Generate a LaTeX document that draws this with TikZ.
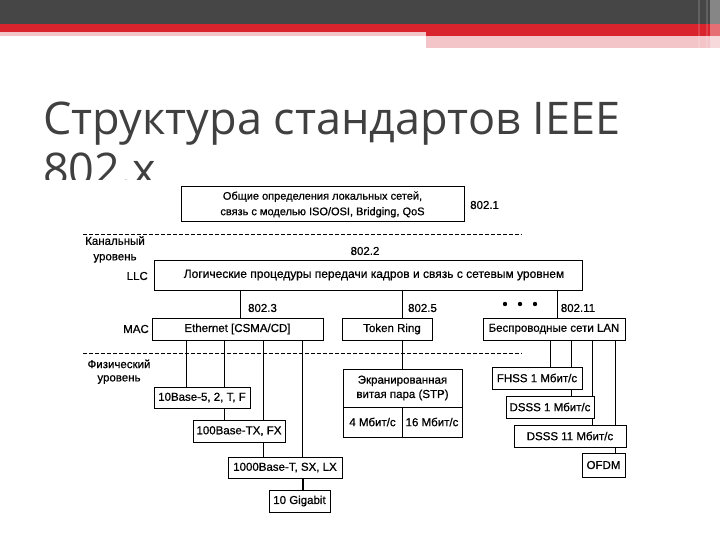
\documentclass[tikz,border=0pt]{standalone}
\usepackage{fontspec}
\setmainfont{Liberation Sans}[FakeBold=0.7]
\newfontfamily\titlefont{Open Sans}
\definecolor{barDark}{HTML}{464646}
\definecolor{barRed}{HTML}{D9232D}
\definecolor{barPink}{HTML}{F4C5C8}
\definecolor{titleGray}{HTML}{404040}
\pgfdeclarelayer{bg}
\pgfsetlayers{bg,main}
\begin{document}
\begin{tikzpicture}[x=1pt,y=-1pt,
  bx/.style={draw, fill=white, line width=1pt, inner sep=0pt, align=center,
    font=\fontsize{11.5}{15.5}\selectfont},
  lbl/.style={inner sep=0pt, align=center, font=\fontsize{11.5}{15.5}\selectfont},
  ln/.style={line width=1pt},
  sepline/.style={line width=0.8pt, dash pattern=on 3.5pt off 2.5pt}]
\useasboundingbox (0,0) rectangle (720,540);
% top bar
\fill[barDark] (0,0) rectangle (720,24);
\fill[barRed] (0,24) rectangle (426,32);
\fill[barPink] (0,32) rectangle (426,35.7);
\fill[barRed] (426,24) rectangle (720,35.7);
\fill[barPink] (426,35.7) rectangle (720,48.5);
\fill[white, opacity=0.35] (710,0) rectangle (720,48.5);
\fill[white, opacity=0.15] (698,0) rectangle (700,48.5);
\fill[white, opacity=0.15] (706,0) rectangle (707.5,48.5);
% title
\node[anchor=base west, inner sep=0pt, text=titleGray,
  font=\titlefont\fontsize{45}{45}\selectfont] (t1) at (43,135) {Структура стандартов IEEE};
\begin{scope}
  \clip (0,140) rectangle (720,180);
  \node[anchor=base west, inner sep=0pt, text=titleGray,
    font=\titlefont\fontsize{45}{45}\selectfont] (t2) at (43,186) {802.x};
\end{scope}
% general box
\node[bx, minimum width=283pt, minimum height=35pt, font=\fontsize{11}{15.5}\selectfont] (gen) at (322.5,204.5)
  {Общие определения локальных сетей,\\связь с моделью ISO/OSI, Bridging, QoS};
\node[lbl, anchor=west] (l8021) at (470,205) {802.1};
% separators
\coordinate (d1a) at (83,234); \coordinate (d1b) at (522,234);
\coordinate (d2a) at (83,353); \coordinate (d2b) at (522,353);
\draw[sepline] (d1a) -- (d1b);
\draw[sepline] (d2a) -- (d2b);
\node[lbl] (kan) at (115,249.5) {Канальный\\уровень};
\node[lbl] (l8022) at (365,251) {802.2};
\node[lbl, anchor=east] (llcl) at (148,276) {LLC};
\node[bx, minimum width=428pt, minimum height=30pt, font=\fontsize{12}{14}\selectfont] (llc) at (368,275)
  {\hspace*{12pt}Логические процедуры передачи кадров и связь с сетевым уровнем};
\node[lbl] (l8023) at (262.5,308) {802.3};
\node[lbl] (l8025) at (422.5,308) {802.5};
\node[lbl] (l80211) at (578,308) {802.11};
\fill (505,304) circle (2.2pt) (520,304) circle (2.2pt) (535,304) circle (2.2pt);
\node[lbl, anchor=east] (mac) at (149,329) {MAC};
\node[bx, minimum width=171pt, minimum height=22pt] (eth) at (237.5,329) {Ethernet [CSMA/CD]};
\node[bx, minimum width=90pt, minimum height=22pt] (tr) at (387,329) {\hspace*{10pt}Token Ring};
\node[bx, minimum width=142pt, minimum height=22pt] (wl) at (554,329) {Беспроводные сети LAN};
\node[lbl, font=\fontsize{11.5}{13.3}\selectfont] (fiz) at (119,371.7) {Физический\\уровень};
% ethernet physical
\node[bx, minimum width=96pt, minimum height=21pt] (b10) at (202,397.5) {10Base-5, 2, T, F};
\node[bx, minimum width=92pt, minimum height=22pt] (b100) at (239,431) {100Base-TX, FX};
\node[bx, minimum width=114pt, minimum height=21pt] (b1000) at (285,467.5) {1000Base-T, SX, LX};
\node[bx, minimum width=61pt, minimum height=22pt] (gig) at (299.5,501) {10 Gigabit};
% STP
\node[bx, minimum width=119pt, minimum height=38pt, font=\fontsize{11.5}{14.3}\selectfont] (stp) at (402.5,388)
  {Экранированная\\витая пара (STP)};
\node[bx, minimum width=59pt, minimum height=30pt] (s4) at (372.5,422) {4 Мбит/с};
\node[bx, minimum width=60pt, minimum height=30pt] (s16) at (432,422) {16 Мбит/с};
% wireless physical
\node[bx, minimum width=90pt, minimum height=22pt] (fhss) at (537,378) {FHSS 1 Мбит/с};
\node[bx, minimum width=88pt, minimum height=22pt] (ds1) at (550,407) {DSSS 1 Мбит/с};
\node[bx, minimum width=112pt, minimum height=22pt] (ds11) at (570,436) {DSSS 11 Мбит/с};
\node[bx, minimum width=43pt, minimum height=24pt] (ofdm) at (603.5,465) {OFDM};
% connectors
\coordinate (xe) at (240,0);
\coordinate (xt) at (402.7,0);
\coordinate (xw) at (557,0);
\coordinate (xa) at (186,0);
\coordinate (xb) at (224.3,0);
\coordinate (xc) at (263.3,0);
\coordinate (xd) at (302.5,0);
\coordinate (xf) at (550,0);
\coordinate (xg) at (571,0);
\coordinate (xh) at (592,0);
\coordinate (xi) at (615,0);
\begin{pgfonlayer}{bg}
\draw[ln] (xe |- llc.south) -- (xe |- eth.north);
\draw[ln] (xt |- llc.south) -- (xt |- tr.north);
\draw[ln] (xw |- llc.south) -- (xw |- wl.north);
\draw[ln] (xa |- eth.south) -- (xa |- b10.north);
\draw[ln] (xb |- eth.south) -- (xb |- b100.north);
\draw[ln] (xc |- eth.south) -- (xc |- b1000.north);
\draw[ln] (xd |- eth.south) -- (xd |- gig.north);
\draw[ln] (xt |- tr.south) -- (xt |- stp.north);
\draw[ln] (xf |- wl.south) -- (xf |- fhss.north);
\draw[ln] (xg |- wl.south) -- (xg |- ds1.north);
\draw[ln] (xh |- wl.south) -- (xh |- ds11.north);
\draw[ln] (xi |- wl.south) -- (xi |- ofdm.north);
\end{pgfonlayer}
\draw[line width=2pt] (xd |- b1000.south) -- (xd |- gig.north);
\end{tikzpicture}
\end{document}
